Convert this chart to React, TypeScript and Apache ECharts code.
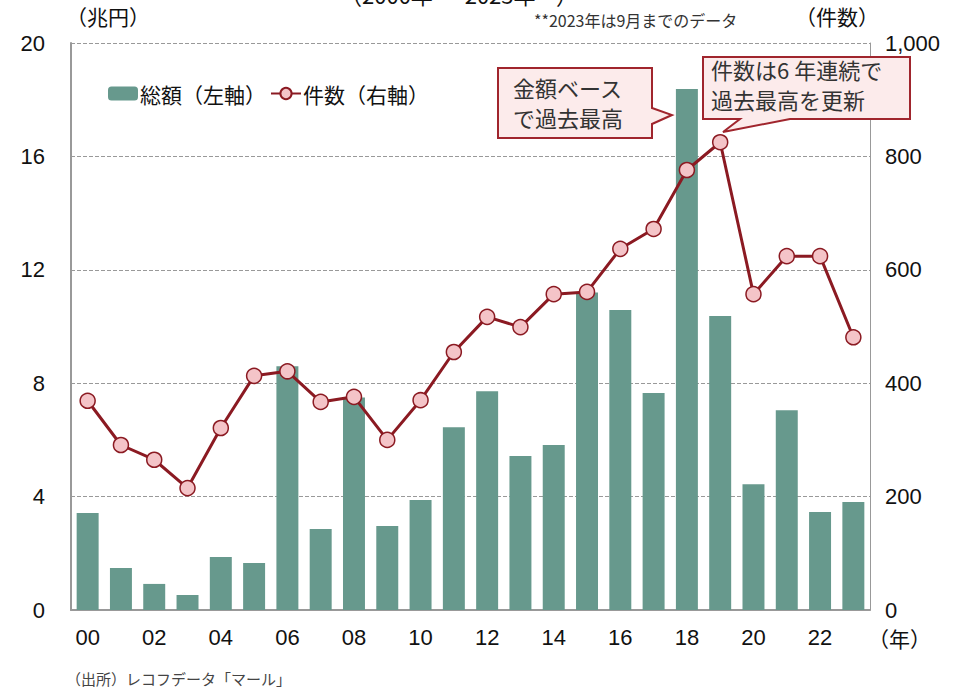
import React, { useEffect, useRef } from "react";
import * as echarts from "echarts";

const years = ["00","01","02","03","04","05","06","07","08","09","10","11","12","13","14","15","16","17","18","19","20","21","22","23"];
const totalAmount = [3.42,1.48,0.92,0.53,1.87,1.66,8.6,2.86,7.5,2.96,3.88,6.45,7.72,5.43,5.82,11.2,10.58,7.65,18.38,10.37,4.44,7.05,3.46,3.81];
const dealCount = [369,291,265,215,321,413,421,367,376,300,370,455,517,499,557,561,637,672,776,825,557,624,624,481];

const NUM_FONT = "'Liberation Sans Narrow', 'Liberation Sans', Arial, sans-serif";
const JP_FONT = "'Noto Sans CJK JP', 'Noto Sans', sans-serif";
const RED = "#8B1A22";
const GREEN = "#67998D";

export default function App() {
  const ref = useRef<HTMLDivElement>(null);
  useEffect(() => {
    const chart = echarts.init(ref.current!, null, { renderer: "svg" });
    chart.setOption({
      animation: false,
      backgroundColor: "#fff",
      grid: { left: 71, right: 89, top: 43, bottom: 82 },
      legend: {
        left: 103,
        top: 78,
        itemWidth: 30,
        itemHeight: 14,
        itemGap: 4,
        data: ["総額（左軸）", "件数（右軸）"],
        textStyle: { fontSize: 21, fontFamily: JP_FONT, color: "#111", padding: [0, 0, 0, -3] },
      },
      xAxis: {
        type: "category",
        data: years,
        axisLine: { lineStyle: { color: "#999", width: 2 } },
        axisTick: { show: false },
        axisLabel: { interval: 1, fontSize: 22, fontFamily: NUM_FONT, color: "#111", margin: 16 },
      },
      yAxis: [
        {
          type: "value",
          min: 0,
          max: 20,
          interval: 4,
          axisLine: { show: true, lineStyle: { color: "#999", width: 2 } },
          axisTick: { show: false },
          splitLine: { lineStyle: { color: "#999", type: [4, 2], width: 1 } },
          axisLabel: { fontSize: 22, fontFamily: NUM_FONT, color: "#111", margin: 26 },
        },
        {
          type: "value",
          min: 0,
          max: 1000,
          interval: 200,
          axisLine: { show: true, lineStyle: { color: "#999", width: 1 } },
          axisTick: { show: false },
          splitLine: { show: false },
          axisLabel: {
            fontSize: 22,
            fontFamily: NUM_FONT,
            color: "#111",
            margin: 15,
            formatter: (v: number) => v.toLocaleString("en-US"),
          },
        },
      ],
      series: [
        {
          name: "総額（左軸）",
          type: "bar",
          data: totalAmount,
          barWidth: "66%",
          itemStyle: { color: GREEN },
          yAxisIndex: 0,
        },
        {
          name: "件数（右軸）",
          type: "line",
          data: dealCount,
          yAxisIndex: 1,
          symbol: "circle",
          symbolSize: 15,
          lineStyle: { color: RED, width: 3 },
          itemStyle: { color: "#F4C4C8", borderColor: RED, borderWidth: 1.5 },
          z: 5,
        },
      ],
      graphic: [
        {
          type: "text",
          left: 340,
          top: -17,
          style: { text: "（2000年 － 2023年**）", fontSize: 22, fontFamily: JP_FONT, fill: "#111" },
        },
        {
          type: "text",
          left: 66,
          top: 5,
          style: { text: "（兆円）", fontSize: 21, fontFamily: JP_FONT, fill: "#111" },
        },
        {
          type: "text",
          left: 795,
          top: 5,
          style: { text: "（件数）", fontSize: 21, fontFamily: JP_FONT, fill: "#111" },
        },
        {
          type: "text",
          left: 534,
          top: 12,
          style: { text: "**2023年は9月までのデータ", fontSize: 16, fontFamily: JP_FONT, fill: "#333" },
        },
        {
          type: "text",
          left: 868,
          top: 627,
          style: { text: "（年）", fontSize: 21, fontFamily: JP_FONT, fill: "#111" },
        },
        {
          type: "text",
          left: 66,
          top: 671,
          style: { text: "（出所）レコフデータ「マール」", fontSize: 15, fontFamily: JP_FONT, fill: "#444" },
        },
        {
          type: "polygon",
          shape: {
            points: [[498, 68], [652, 68], [652, 108], [672, 115], [652, 124], [652, 138], [498, 138]],
          },
          style: { fill: "#FCEBEB", stroke: "#A0252D", lineWidth: 2 },
          z: 10,
        },
        {
          type: "text",
          left: 513,
          top: 76,
          style: { text: "金額ベース", fontSize: 22, fontFamily: JP_FONT, fill: "#333" },
          z: 11,
        },
        {
          type: "text",
          left: 513,
          top: 106,
          style: { text: "で過去最高", fontSize: 22, fontFamily: JP_FONT, fill: "#333" },
          z: 11,
        },
        {
          type: "polygon",
          shape: {
            points: [[703, 57], [910, 57], [910, 119], [790, 119], [723, 132], [740, 119], [703, 119]],
          },
          style: { fill: "#FCEBEB", stroke: "#A0252D", lineWidth: 2 },
          z: 10,
        },
        {
          type: "text",
          left: 711,
          top: 58,
          style: { text: "件数は6 年連続で", fontSize: 22, fontFamily: JP_FONT, fill: "#333" },
          z: 11,
        },
        {
          type: "text",
          left: 711,
          top: 88,
          style: { text: "過去最高を更新", fontSize: 22, fontFamily: JP_FONT, fill: "#333" },
          z: 11,
        },
      ],
    });
    return () => chart.dispose();
  }, []);
  return <div ref={ref} style={{ position: "fixed", left: 0, top: 0, width: 959, height: 692 }} />;
}
